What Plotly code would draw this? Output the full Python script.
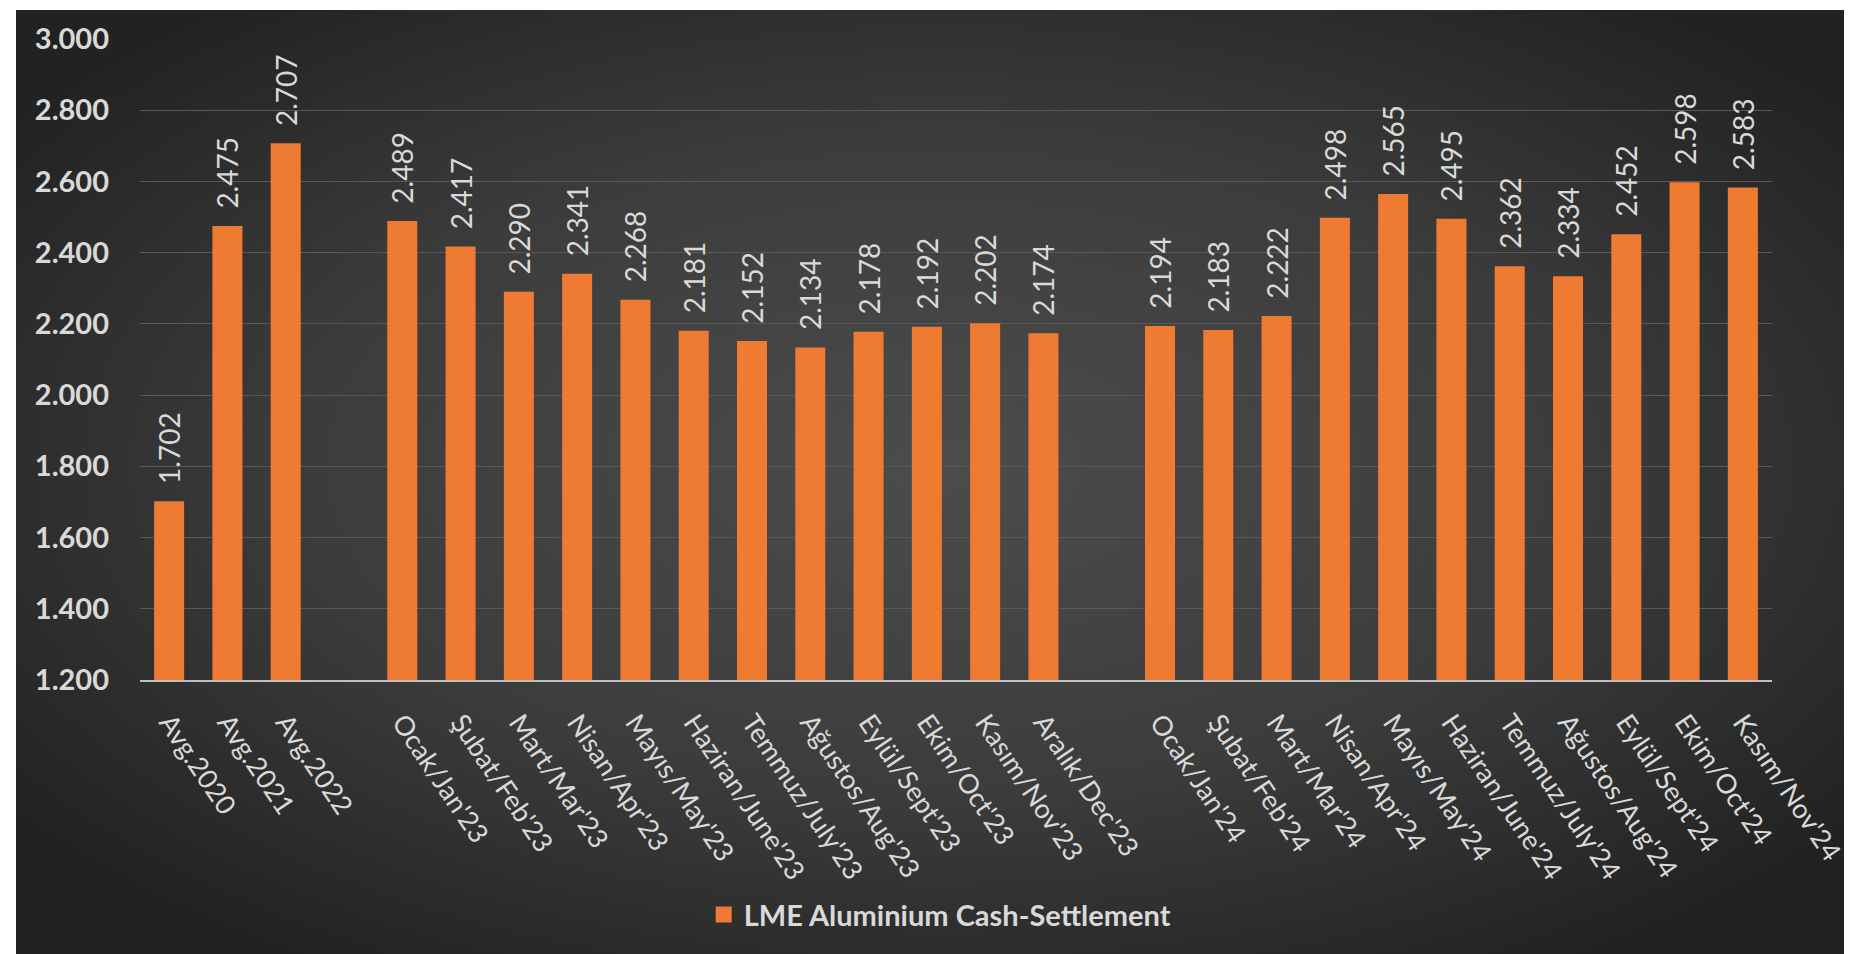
import base64
import plotly.graph_objects as go

# ---- data ----
categories = ["Avg.2020", "Avg.2021", "Avg.2022", " ",
              "Ocak/Jan'23", "Şubat/Feb'23", "Mart/Mar'23", "Nisan/Apr'23", "Mayıs/May'23",
              "Haziran/June'23", "Temmuz/July'23", "Ağustos/Aug'23", "Eylül/Sept'23",
              "Ekim/Oct'23", "Kasım/Nov'23", "Aralık/Dec'23", "  ",
              "Ocak/Jan'24", "Şubat/Feb'24", "Mart/Mar'24", "Nisan/Apr'24", "Mayıs/May'24",
              "Haziran/June'24", "Temmuz/July'24", "Ağustos/Aug'24", "Eylül/Sept'24",
              "Ekim/Oct'24", "Kasım/Nov'24"]
values = [1702, 2475, 2707, None,
          2489, 2417, 2290, 2341, 2268, 2181, 2152, 2134, 2178, 2192, 2202, 2174, None,
          2194, 2183, 2222, 2498, 2565, 2495, 2362, 2334, 2452, 2598, 2583]
series_name = "LME Aluminium Cash-Settlement"
y_ticks = [1200, 1400, 1600, 1800, 2000, 2200, 2400, 2600, 2800, 3000]

# ---- geometry ----
W, H = 1852, 954
ML, MR, MT, MB = 132, 88, 31, 282
PW, PH = W - ML - MR, H - MT - MB

FONT = "Lato"
TXT = "#d9d9d9"
BAR = "#EE7B31"

svg = (f"<svg xmlns='http://www.w3.org/2000/svg' width='{W}' height='{H}' preserveAspectRatio='none'>"
       "<defs><radialGradient id='g' cx='50%' cy='48%' r='62%'>"
       "<stop offset='0' stop-color='#4c4c4c'/><stop offset='0.55' stop-color='#3c3c3c'/>"
       "<stop offset='1' stop-color='#222222'/></radialGradient></defs>"
       f"<rect width='{W}' height='{H}' fill='url(#g)'/></svg>")
bg_src = "data:image/svg+xml;base64," + base64.b64encode(svg.encode()).decode()

fig = go.Figure()
fig.add_trace(go.Bar(
    x=categories, y=values, name=series_name,
    marker=dict(color=BAR, line=dict(width=0)),
    texttemplate="\u00a0\u00a0%{y:,}", textposition="outside", textangle=-90,
    textfont=dict(family=FONT, size=28, color=TXT),
    constraintext="none", cliponaxis=False,
    showlegend=False,
))
# legend entry (larger square symbol like the original)
fig.add_trace(go.Scatter(
    x=[None], y=[None], mode="markers", name=series_name,
    marker=dict(symbol="square", size=16, color=BAR),
    showlegend=True, hoverinfo="skip",
))

fig.update_layout(
    width=W, height=H,
    margin=dict(l=ML, r=MR, t=MT, b=MB, pad=0),
    paper_bgcolor="white",
    plot_bgcolor="rgba(0,0,0,0)",
    separators=",.",
    bargap=0.485,
    font=dict(family=FONT, color=TXT),
    images=[dict(source=bg_src, xref="paper", yref="paper",
                 x=(8 - ML) / PW, y=1 + (MT - 2) / PH,
                 sizex=(W - 8) / PW, sizey=(H - 2) / PH,
                 xanchor="left", yanchor="top", sizing="stretch", layer="below")],
    xaxis=dict(
        type="category", categoryorder="array", categoryarray=categories,
        showgrid=False, zeroline=False,
        showline=True, linecolor="#bfbfbf", linewidth=2,
        ticks="", tickangle=56, ticklabelstandoff=14,
        tickfont=dict(family=FONT, size=27, color=TXT),
    ),
    yaxis=dict(
        range=[1200, 3000], tickvals=y_ticks, tickformat=",d",
        showgrid=True, gridcolor="#585858", gridwidth=1,
        zeroline=False, showline=False, ticks="", ticklabelstandoff=30,
        tickfont=dict(family=FONT, size=29, color=TXT, weight="bold"),
    ),
    legend=dict(orientation="h", x=0.49, xanchor="center", y=-0.366, yanchor="middle",
                font=dict(family=FONT, size=29, color=TXT, weight="bold"),
                bgcolor="rgba(0,0,0,0)"),
)

fig.write_html("out.html")
